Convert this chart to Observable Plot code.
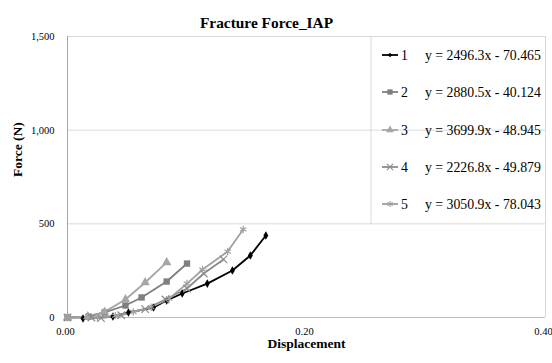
<!DOCTYPE html>
<html><head><meta charset="utf-8">
<script src="https://cdn.jsdelivr.net/npm/d3@7"></script>
<script src="https://cdn.jsdelivr.net/npm/@observablehq/plot@0.6"></script>
<style>
body{margin:0;background:#fff}
svg{display:block}
#chart svg, #chart svg text{font-family:"Liberation Serif","Times New Roman",serif !important}
</style>
</head><body><div id="chart"></div>
<script>
const seriesNames = ["1", "2", "3", "4", "5"];
const equations = ["y = 2496.3x - 70.465", "y = 2880.5x - 40.124", "y = 3699.9x - 48.945", "y = 2226.8x - 49.879", "y = 3050.9x - 78.043"];
const colors = ["#000000", "#7f7f7f", "#a6a6a6", "#8c8c8c", "#a0a0a0"];
const symbols = ["diamond", "square", "triangle", "times", "asterisk"];
const filled = [true, true, true, false, false];
const radii = [2.6, 3.6, 3.5, 3.5, 3.5];

const s1x = [0.013, 0.038, 0.051, 0.072, 0.083, 0.096, 0.117, 0.138, 0.153, 0.166];
const s1y = [-5, 5, 27, 53, 91, 128, 181, 251, 331, 438];
const s2x = [0, 0.0176, 0.031, 0.0485, 0.062, 0.083, 0.100];
const s2y = [0, 5, 27, 64, 107, 192, 288];
const s3x = [0, 0.017, 0.031, 0.0485, 0.065, 0.083];
const s3y = [0, 5, 30, 96, 187, 294];
const s4x = [0, 0.02, 0.028, 0.045, 0.065, 0.082, 0.1, 0.114, 0.1305];
const s4y = [0, 0, -3, 12, 45, 96, 155, 235, 310];
const s5x = [0, 0.025, 0.04, 0.055, 0.07, 0.085, 0.1, 0.113, 0.134, 0.147];
const s5y = [0, 2, 10, 30, 55, 101, 181, 256, 352, 470];

const xTicks = [0, 0.2, 0.4];
const yTicks = [0, 500, 1000, 1500];
const gridValues = [500, 1000, 1500];

const allX = [s1x, s2x, s3x, s4x, s5x];
const allY = [s1y, s2y, s3y, s4y, s5y];
const data = [];
seriesNames.forEach((s, i) => allX[i].forEach((x, j) => data.push({series: s, x, y: allY[i][j]})));

const font = "'Liberation Serif', 'Times New Roman', serif";

const dotMarks = seriesNames.map((s, i) => Plot.dot(data.filter(d => d.series === s), {
  x: "x", y: "y", symbol: () => symbols[i], r: radii[i],
  fill: filled[i] ? colors[i] : "none",
  stroke: filled[i] ? "none" : colors[i], strokeWidth: 1.2
}));

const chart = Plot.plot({
  width: 552, height: 363,
  marginLeft: 67, marginRight: 7, marginTop: 36, marginBottom: 46,
  style: {fontFamily: font, fontSize: "10.5px", background: "#fff", color: "#000", overflow: "visible"},
  x: {domain: [0, 0.4], label: null},
  y: {domain: [0, 1500], label: null},
  symbol: {domain: symbols, range: symbols},
  marks: [
    Plot.ruleY(gridValues, {stroke: "#d9d9d9", strokeWidth: 1}),
    Plot.ruleX([0.4], {stroke: "#d9d9d9", strokeWidth: 1}),
    Plot.ruleX([0], {stroke: "#a6a6a6", strokeWidth: 1}),
    Plot.ruleY([0], {stroke: "#bfbfbf", strokeWidth: 1}),
    Plot.axisY(yTicks, {tickSize: 0, tickPadding: 13, tickFormat: d3.format(","), fontSize: 10.5}),
    Plot.axisX(xTicks, {tickSize: 0, tickPadding: 10, dx: -2, tickFormat: d3.format(".2f"), fontSize: 10.5}),
    Plot.line(data, {x: "x", y: "y", z: "series", stroke: d => colors[seriesNames.indexOf(d.series)], strokeWidth: 1.8}),
    ...dotMarks,
    Plot.text(["Fracture Force_IAP"], {frameAnchor: "top", dx: -40, dy: -19, fontSize: 15.4, fontWeight: "bold"}),
    Plot.text(["Force (N)"], {frameAnchor: "left", dx: -50, rotate: -90, fontSize: 13.5, fontWeight: "bold"}),
    Plot.text(["Displacement"], {frameAnchor: "bottom", dy: 30, fontSize: 13.5, fontWeight: "bold"})
  ]
});

// Legend (drawn inside the plot area, top right)
const svg = d3.select(chart);
const leg = svg.append("g").attr("font-family", font).attr("font-size", 13.8).attr("text-anchor", "start");
leg.append("line").attr("x1", 371).attr("x2", 371).attr("y1", 37).attr("y2", 224).attr("stroke", "#d9d9d9");
const rowY = [55, 92, 130, 167, 204];
const symMap = {diamond: d3.symbolDiamond2, square: d3.symbolSquare, triangle: d3.symbolTriangle, times: d3.symbolTimes, asterisk: d3.symbolAsterisk};
seriesNames.forEach((s, i) => {
  const g = leg.append("g").attr("transform", `translate(0,${rowY[i]})`);
  g.append("line").attr("x1", 382).attr("x2", 398).attr("y1", 0).attr("y2", 0).attr("stroke", colors[i]).attr("stroke-width", 1.8);
  g.append("path").attr("transform", "translate(390,0)")
    .attr("d", d3.symbol(symMap[symbols[i]], Math.PI * (radii[i] - 0.6) ** 2)())
    .attr("fill", filled[i] ? colors[i] : "none").attr("stroke", filled[i] ? "none" : colors[i]).attr("stroke-width", 1.1);
  g.append("text").attr("x", 401).attr("dy", "0.35em").attr("text-anchor", "start").text(s);
  g.append("text").attr("x", 425).attr("dy", "0.35em").attr("text-anchor", "start").text(equations[i]);
});

document.getElementById("chart").appendChild(chart);
</script>
</body></html>
